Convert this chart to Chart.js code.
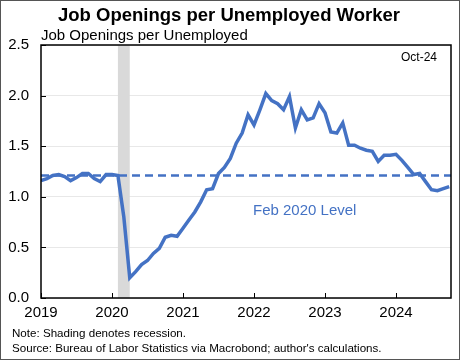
<!DOCTYPE html>
<html>
<head>
<meta charset="utf-8">
<script src="https://cdn.jsdelivr.net/npm/chart.js@4"></script>
<style>
  html, body { margin: 0; padding: 0; background: #fff; }
  #wrap { position: relative; width: 460px; height: 360px; }
</style>
</head>
<body>
<div id="wrap"><canvas id="chart" width="460" height="360"></canvas></div>
<script>
// monthly data, Jan 2019 .. Oct 2024
let yearLabels = ['2019', '2020', '2021', '2022', '2023', '2024'];
let ratio = [
    1.16, 1.18, 1.21, 1.22, 1.20, 1.16, 1.19, 1.23, 1.23, 1.18, 1.15, 1.22,
    1.22, 1.21, 0.80, 0.20, 0.26, 0.33, 0.37, 0.44, 0.49, 0.60, 0.62, 0.61,
    0.69, 0.77, 0.85, 0.95, 1.07, 1.08, 1.23, 1.29, 1.38, 1.53, 1.63, 1.81,
    1.71, 1.86, 2.02, 1.95, 1.92, 1.86, 1.99, 1.68, 1.86, 1.76, 1.78, 1.92,
    1.83, 1.64, 1.63, 1.73, 1.51, 1.51, 1.48, 1.46, 1.45, 1.35, 1.41, 1.41,
    1.42, 1.36, 1.29, 1.22, 1.23, 1.15, 1.07, 1.06, 1.08, 1.10
];
let feb2020Level = 1.21;
let recession = [13, 15]; // Feb 2020 .. Apr 2020, month index
let yTicks = [0, 0.5, 1.0, 1.5, 2.0, 2.5];

let blue = '#4472C4';
let font = '"Liberation Sans", Arial, sans-serif';

let linePoints = ratio.map((v, i) => ({ x: i, y: v }));
let xMax = 69.3;

let decor = {
    id: 'decor',
    beforeDatasetsDraw(chart) {
        let { ctx, chartArea, scales } = chart;
        let x0 = scales.x.getPixelForValue(recession[0]);
        let x1 = scales.x.getPixelForValue(recession[1]);
        ctx.save();
        ctx.fillStyle = '#d9d9d9';
        ctx.fillRect(x0, chartArea.top, x1 - x0, chartArea.bottom - chartArea.top);
        ctx.restore();
    },
    afterDatasetsDraw(chart) {
        let { ctx, chartArea, scales } = chart;
        ctx.save();
        ctx.strokeStyle = '#000';
        ctx.lineWidth = 1.5;
        ctx.strokeRect(chartArea.left, chartArea.top, chartArea.right - chartArea.left, chartArea.bottom - chartArea.top);
        ctx.lineWidth = 1;
        ctx.beginPath();
        [0, 12, 24, 36, 48, 60].forEach(m => {
            let px = Math.round(scales.x.getPixelForValue(m)) + 0.5;
            ctx.moveTo(px, chartArea.bottom);
            ctx.lineTo(px, chartArea.bottom - 5);
        });
        yTicks.forEach(v => {
            let py = Math.round(scales.y.getPixelForValue(v)) + 0.5;
            ctx.moveTo(chartArea.left, py);
            ctx.lineTo(chartArea.left + 5, py);
        });
        ctx.stroke();
        ctx.restore();
    },
    afterDraw(chart) {
        let { ctx, chartArea } = chart;
        ctx.save();
        ctx.textBaseline = 'middle';
        ctx.fillStyle = '#000';
        ctx.font = 'bold 18.5px ' + font;
        ctx.textAlign = 'center';
        ctx.fillText('Job Openings per Unemployed Worker', 229, 16);

        ctx.textAlign = 'left';
        ctx.font = '15px ' + font;
        ctx.fillText('Job Openings per Unemployed', 41, 36);

        ctx.font = '12px ' + font;
        ctx.textAlign = 'right';
        ctx.fillText('Oct-24', 437, 58);

        ctx.textAlign = 'left';
        ctx.fillStyle = blue;
        ctx.font = '15px ' + font;
        ctx.fillText('Feb 2020 Level', 253, 211);

        ctx.fillStyle = '#000';
        ctx.font = '11.6px ' + font;
        ctx.fillText('Note: Shading denotes recession.', 12, 334);
        ctx.fillText("Source: Bureau of Labor Statistics via Macrobond; author's calculations.", 12, 349);

        ctx.strokeStyle = '#555';
        ctx.lineWidth = 1;
        ctx.strokeRect(0.5, 0.5, 459, 359);
        ctx.restore();
    }
};

let ctx = document.getElementById('chart').getContext('2d');
new Chart(ctx, {
    type: 'line',
    data: {
        datasets: [{
            data: linePoints,
            borderColor: blue,
            borderWidth: 3.5,
            pointRadius: 0,
            tension: 0,
            order: 1
        }, {
            data: [{ x: 0, y: feb2020Level }, { x: xMax, y: feb2020Level }],
            borderColor: blue,
            borderWidth: 2.5,
            borderDash: [8, 5],
            pointRadius: 0,
            order: 2
        }]
    },
    options: {
        responsive: false,
        animation: false,
        layout: { padding: { top: 45, right: 9, left: 0, bottom: 0 } },
        plugins: { legend: { display: false }, tooltip: { enabled: false } },
        scales: {
            x: {
                type: 'linear',
                min: 0,
                max: xMax,
                afterBuildTicks: axis => {
                    axis.ticks = [0, 12, 24, 36, 48, 60].map(v => ({ value: v }));
                },
                afterFit: axis => { axis.height = 62; },
                grid: { display: false, drawTicks: false },
                border: { display: false },
                ticks: {
                    padding: 6,
                    maxRotation: 0,
                    autoSkip: false,
                    color: '#000',
                    font: { family: font, size: 15 },
                    callback: v => yearLabels[v / 12]
                }
            },
            y: {
                min: 0,
                max: 2.5,
                afterBuildTicks: axis => {
                    axis.ticks = yTicks.map(v => ({ value: v }));
                },
                afterFit: axis => { axis.width = 41; },
                grid: { color: '#e8e8e8', drawTicks: false },
                border: { display: false },
                ticks: {
                    padding: 12,
                    color: '#000',
                    font: { family: font, size: 15 },
                    callback: v => v.toFixed(1)
                }
            }
        }
    },
    plugins: [decor]
});
</script>
</body>
</html>
